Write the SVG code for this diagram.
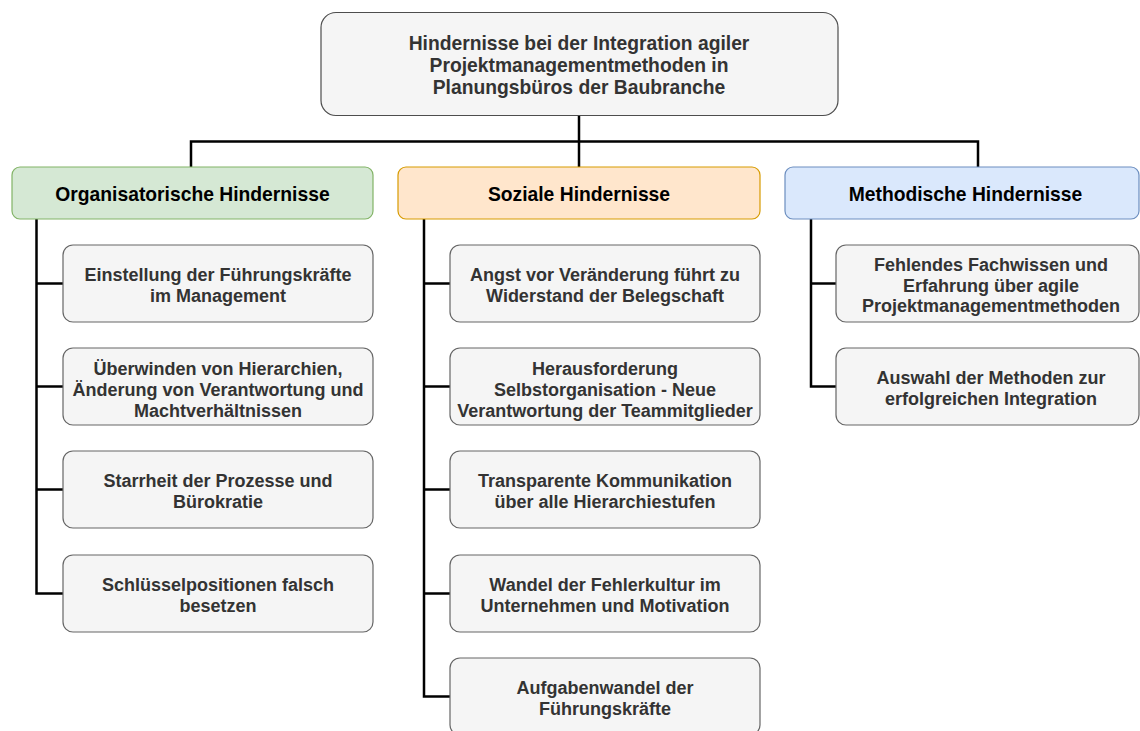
<svg xmlns="http://www.w3.org/2000/svg" width="1140" height="731" viewBox="0 0 1140 731">
  <style>
    .bg { fill: #ffffff; }
    .conn { fill: none; stroke: #000000; stroke-width: 2.5; stroke-linejoin: miter; }
    .root { fill: #f5f5f5; stroke: #4d4d4d; stroke-width: 1.2; }
    .leaf { fill: #f5f5f5; stroke: #666666; stroke-width: 1.2; }
    .org { fill: #d5e8d4; stroke: #82b366; stroke-width: 1.2; }
    .soc { fill: #ffe6cc; stroke: #d79b00; stroke-width: 1.2; }
    .met { fill: #dae8fc; stroke: #6c8ebf; stroke-width: 1.2; }
    text { font-family: "Liberation Sans", Arial, Helvetica, sans-serif; font-weight: bold; text-anchor: middle; }
    .t { font-size: 18px; fill: #333333; }
    .r { font-size: 19.3px; fill: #333333; }
    .h { font-size: 19.3px; fill: #000000; }
  </style>
  <rect class="bg" x="0" y="0" width="1140" height="731"/>

  <!-- connectors -->
  <g id="connectors">
    <path class="conn" d="M579,115 V167"/>
    <path class="conn" d="M191,167 V141.5 H978 V167"/>
    <path class="conn" d="M36.5,219 V593.5 H63"/>
    <path class="conn" d="M36.5,283.5 H63 M36.5,386.5 H63 M36.5,489.5 H63"/>
    <path class="conn" d="M424,219 V696.5 H450"/>
    <path class="conn" d="M424,283.5 H450 M424,386.5 H450 M424,489.5 H450 M424,593.5 H450"/>
    <path class="conn" d="M811,219 V386.5 H836"/>
    <path class="conn" d="M811,283.5 H836"/>
  </g>

  <!-- root -->
  <g id="root">
    <rect class="root" x="321" y="12.5" width="517" height="103" rx="15"/>
    <text class="r" x="579" y="50">Hindernisse bei der Integration agiler</text>
    <text class="r" x="579" y="72">Projektmanagementmethoden in</text>
    <text class="r" x="579" y="94">Planungsbüros der Baubranche</text>
  </g>

  <!-- categories -->
  <g id="cat-org">
    <rect class="org" x="12" y="167" width="361" height="52" rx="8"/>
    <text class="h" x="192.5" y="201">Organisatorische Hindernisse</text>
  </g>
  <g id="cat-soc">
    <rect class="soc" x="398" y="167" width="362" height="52" rx="8"/>
    <text class="h" x="579" y="201">Soziale Hindernisse</text>
  </g>
  <g id="cat-met">
    <rect class="met" x="785" y="167" width="354" height="52" rx="8"/>
    <text class="h" x="965.5" y="201">Methodische Hindernisse</text>
  </g>

  <!-- organisational leaves -->
  <g id="org-1">
    <rect class="leaf" x="63" y="245" width="310" height="77" rx="10"/>
    <text class="t" x="218" y="281">Einstellung der Führungskräfte</text>
    <text class="t" x="218" y="302">im Management</text>
  </g>
  <g id="org-2">
    <rect class="leaf" x="63" y="348" width="310" height="77" rx="10"/>
    <text class="t" x="218" y="375">Überwinden von Hierarchien,</text>
    <text class="t" x="218" y="396">Änderung von Verantwortung und</text>
    <text class="t" x="218" y="417">Machtverhältnissen</text>
  </g>
  <g id="org-3">
    <rect class="leaf" x="63" y="451" width="310" height="77" rx="10"/>
    <text class="t" x="218" y="487">Starrheit der Prozesse und</text>
    <text class="t" x="218" y="508">Bürokratie</text>
  </g>
  <g id="org-4">
    <rect class="leaf" x="63" y="555" width="310" height="77" rx="10"/>
    <text class="t" x="218" y="591">Schlüsselpositionen falsch</text>
    <text class="t" x="218" y="612">besetzen</text>
  </g>

  <!-- social leaves -->
  <g id="soc-1">
    <rect class="leaf" x="450" y="245" width="310" height="77" rx="10"/>
    <text class="t" x="605" y="281">Angst vor Veränderung führt zu</text>
    <text class="t" x="605" y="302">Widerstand der Belegschaft</text>
  </g>
  <g id="soc-2">
    <rect class="leaf" x="450" y="348" width="310" height="77" rx="10"/>
    <text class="t" x="605" y="375">Herausforderung</text>
    <text class="t" x="605" y="396">Selbstorganisation - Neue</text>
    <text class="t" x="605" y="417">Verantwortung der Teammitglieder</text>
  </g>
  <g id="soc-3">
    <rect class="leaf" x="450" y="451" width="310" height="77" rx="10"/>
    <text class="t" x="605" y="487">Transparente Kommunikation</text>
    <text class="t" x="605" y="508">über alle Hierarchiestufen</text>
  </g>
  <g id="soc-4">
    <rect class="leaf" x="450" y="555" width="310" height="77" rx="10"/>
    <text class="t" x="605" y="591">Wandel der Fehlerkultur im</text>
    <text class="t" x="605" y="612">Unternehmen und Motivation</text>
  </g>
  <g id="soc-5">
    <rect class="leaf" x="450" y="658" width="310" height="77" rx="10"/>
    <text class="t" x="605" y="694">Aufgabenwandel der</text>
    <text class="t" x="605" y="715">Führungskräfte</text>
  </g>

  <!-- methodical leaves -->
  <g id="met-1">
    <rect class="leaf" x="836" y="245" width="303" height="77" rx="10"/>
    <text class="t" x="991" y="271">Fehlendes Fachwissen und</text>
    <text class="t" x="991" y="292">Erfahrung über agile</text>
    <text class="t" x="991" y="312">Projektmanagementmethoden</text>
  </g>
  <g id="met-2">
    <rect class="leaf" x="836" y="348" width="303" height="77" rx="10"/>
    <text class="t" x="991" y="384">Auswahl der Methoden zur</text>
    <text class="t" x="991" y="405">erfolgreichen Integration</text>
  </g>
</svg>
